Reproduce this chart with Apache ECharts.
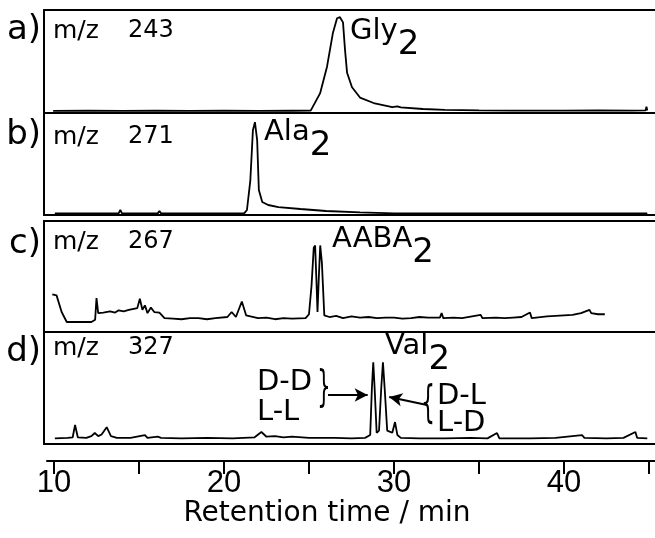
<!DOCTYPE html>
<html>
<head>
<meta charset="utf-8">
<script src="https://cdn.jsdelivr.net/npm/echarts@6/dist/echarts.min.js"></script>
<style>
  html, body { margin: 0; padding: 0; background: #fff; }
  #chart { width: 655px; height: 538px; }
</style>
</head>
<body>
<div id="chart"></div>
<script>
// Panel tags, selected ions and analytes of the four traces
const panelTags = ['a)', 'b)', 'c)', 'd)'];
const ionMasses = ['243', '271', '267', '327'];
const analytes = ['Gly', 'Ala', 'AABA', 'Val'];

// Retention-time axis
const tickValues = [10, 15, 20, 25, 30, 35, 40, 45];
const labelValues = [10, 20, 30, 40];
const axisTitle = 'Retention time / min';

// Ion traces: [retention time (min), relative intensity (% of panel height)]
const glyTrace = [[9.95,2],[12,2.2],[14,2],[16,2.3],[18,2],[20,2.2],[22,2],[24,2.2],[25.1,2.3],[25.2,3],
  [25.65,19],[26.06,45],[26.41,78],[26.65,92],[26.82,93],[27.0,88],[27.12,61],[27.24,39],[27.53,25],
  [28.0,15],[28.8,9.7],[29.9,5.8],[30.2,6.5],[30.4,5.5],[31.7,3.9],[33,3],[35,2.6],[37,2.4],[40,2.4],
  [42,2.5],[44,2.4],[44.8,2.6],[44.85,6],[44.9,2.5]];

const alaTrace = [[10.05,1.5],[12,1.5],[13.8,1.6],[13.9,4.9],[14.0,1.6],[16.1,1.6],[16.2,3.9],[16.3,1.6],
  [18,1.5],[20,1.5],[21.2,1.8],[21.35,4.9],[21.55,34],[21.7,83],[21.82,91],[21.95,73.5],[22.05,24.5],
  [22.25,12.7],[22.6,9.8],[23.2,7.8],[24.5,5.9],[26,3.9],[28,2.5],[30,1.5],[33,1.6],[36,1.5],[40,1.5],
  [44.9,1.5]];

const aabaTrace = [[9.9,34],[10.15,33],[10.45,18],[10.75,9],[11.5,9],[12.2,9],[12.42,11],[12.5,30.5],
  [12.6,17],[12.9,17.5],[13.3,18.5],[13.6,17.5],[13.8,19.5],[14.1,18.5],[14.4,20],[14.9,21.5],[15.05,30],
  [15.2,20],[15.35,24],[15.5,17],[15.7,22],[15.9,18],[16.2,17.5],[16.5,12.5],[17.0,12],[17.5,11.5],
  [18.0,12.5],[18.5,12.5],[19.0,11.5],[19.5,12.5],[20.2,13.5],[20.45,18],[20.7,13.5],[21.05,27.5],
  [21.3,15],[22,12.5],[22.5,13],[23,11.5],[23.5,12.5],[24,12],[24.8,12.5],[25.0,16],[25.15,42],
  [25.28,76],[25.36,78],[25.44,45],[25.5,18],[25.58,50],[25.66,78],[25.76,62],[25.9,15],[26.2,13.5],
  [26.6,14.5],[27,12.5],[27.5,14],[28,13],[28.5,13.5],[29,12.5],[29.5,13],[30,13],[30.5,12],[31,12.5],
  [31.5,13.5],[32,13],[32.7,13],[32.8,17],[32.9,12.5],[33.5,13],[34,12.5],[35.1,15.5],[35.2,12.5],
  [36,13],[36.5,12.5],[37.0,13],[37.5,13.5],[38,17.5],[38.1,12.5],[39,14],[39.5,14.5],[40,15],
  [40.5,15.5],[41,17],[41.5,20],[41.6,17],[42,16],[42.4,16]];

const valTrace = [[10.05,5],[10.8,5.5],[11.1,6],[11.24,17],[11.4,6],[11.9,5.5],[12.2,7],[12.4,9.8],
  [12.6,7],[12.8,8.5],[13.1,15],[13.35,7],[13.7,5.5],[14.5,5.5],[15.35,8],[15.5,5.5],[16.1,6.5],
  [16.3,5.5],[17.5,5],[19,5.5],[20.5,5],[21.8,6],[22.2,10.7],[22.5,6.5],[23,7],[23.5,6],[24,6.5],
  [25,5.5],[26.5,5.5],[27.5,5],[28.3,5.5],[28.6,8],[28.7,50],[28.78,73],[28.86,50],[28.98,10],
  [29.12,12],[29.25,50],[29.35,73],[29.45,50],[29.6,12],[29.9,10],[30.06,19.6],[30.2,8],[30.4,5.5],
  [31.5,5],[33,5],[34.5,5.5],[35.5,5],[36.06,9.8],[36.2,5],[38,5],[39.5,5.5],[41.06,8],[41.2,5.5],
  [42.5,5],[43.5,5.5],[44.2,10.7],[44.3,5.5],[44.9,5]];

const traces = [glyTrace, alaTrace, aabaTrace, valTrace];

// Diastereomer annotations in the Val2 trace: [tail, head] in (min, %)
const isomerArrows = [
  [[26.12, 43.75], [28.45, 43.75]],
  [[31.94, 34.8], [29.72, 42]]
];
const isomerPairsLeft = ['D-D', 'L-L'];
const isomerPairsRight = ['D-L', 'L-D'];

const FONT = "'DejaVu Sans', sans-serif";
const AXIS_MIN = 9.412, AXIS_MAX = 45.353;

// Panel frames (px)
const panelBoxes = [
  { top: 10, height: 103 },
  { top: 113, height: 102 },
  { top: 221, height: 111 },
  { top: 332, height: 112 }
];
const tagY = [30, 135, 244, 352];
const ionY = [31, 137, 242, 348];
const nameAnchors = [[350, 17], [264, 118], [332, 225], [385, 332]];

const frameLine = { show: true, lineStyle: { color: '#000', width: 2 } };

const grids = panelBoxes.map(b => ({ left: 44, right: 0, top: b.top, height: b.height }));
grids.push({ left: 47, right: 0, top: 451, height: 10 });

const xAxes = [];
panelBoxes.forEach((b, i) => {
  // data axis along the panel floor, plus a bare line closing the panel top
  xAxes.push({ type: 'value', gridIndex: i, min: AXIS_MIN, max: AXIS_MAX, position: 'bottom',
    axisLine: frameLine, axisTick: { show: false }, axisLabel: { show: false }, splitLine: { show: false } });
  xAxes.push({ type: 'value', gridIndex: i, min: AXIS_MIN, max: AXIS_MAX, position: 'top',
    axisLine: frameLine, axisTick: { show: false }, axisLabel: { show: false }, splitLine: { show: false } });
});
xAxes.push({
  type: 'value', gridIndex: 4, min: 9.588, max: 45.353, position: 'bottom',
  axisLine: { show: true, lineStyle: { color: '#000', width: 2 } },
  axisTick: { show: true, customValues: tickValues, length: 13, inside: false,
    lineStyle: { color: '#000', width: 2 } },
  axisLabel: { show: true, customValues: labelValues, margin: 7, color: '#000',
    fontSize: 31, fontFamily: "'Liberation Sans', Arial, sans-serif" },
  splitLine: { show: false },
  name: axisTitle, nameLocation: 'middle', nameGap: 38,
  nameTextStyle: { fontSize: 28, fontFamily: FONT, color: '#000', padding: [0, 48, 0, 0] }
});

const yAxes = panelBoxes.map((b, i) => ({ type: 'value', gridIndex: i, min: 0, max: 100, position: 'left',
  axisLine: frameLine, axisTick: { show: false }, axisLabel: { show: false }, splitLine: { show: false } }));
yAxes.push({ type: 'value', gridIndex: 4, min: 0, max: 1, show: false });

const series = traces.map((data, i) => ({
  type: 'line', xAxisIndex: i * 2, yAxisIndex: i, data: data,
  showSymbol: false, symbol: 'none', silent: true, animation: false,
  lineStyle: { color: '#000', width: 1.8 }
}));
series[3].markLine = {
  silent: true, animation: false, symbol: ['none', 'arrow'], symbolSize: [10, 13],
  label: { show: false },
  lineStyle: { color: '#000', width: 2, type: 'solid' },
  data: isomerArrows.map(a => [{ coord: a[0] }, { coord: a[1] }])
};

function txt(x, y, text, size, align, extra) {
  return Object.assign({
    type: 'text', x: x, y: y, silent: true,
    style: { text: text, fill: '#000', font: size + 'px ' + FONT,
      align: align || 'left', verticalAlign: 'middle',
      textAlign: align || 'left', textVerticalAlign: 'middle' }
  }, extra || {});
}

const graphics = [];
panelTags.forEach((t, i) => graphics.push(txt(41, tagY[i], t, 34, 'right')));
ionMasses.forEach((m, i) => {
  graphics.push(txt(53, ionY[i], 'm/z', 25));
  graphics.push(txt(128, ionY[i], m, 24));
});
analytes.forEach((name, i) => {
  graphics.push({
    type: 'text', x: nameAnchors[i][0], y: nameAnchors[i][1], silent: true,
    style: {
      text: '{n|' + name + '}{s|2}', fill: '#000', align: 'left', verticalAlign: 'top',
      textAlign: 'left', textVerticalAlign: 'top',
      rich: {
        n: { fontSize: 29, fontFamily: FONT, lineHeight: 31, verticalAlign: 'top', color: '#000' },
        s: { fontSize: 34, fontFamily: FONT, lineHeight: 34, verticalAlign: 'top', padding: [11, 0, 0, 0], color: '#000' }
      }
    }
  });
});
// Isomer pair labels and braces in the Val2 panel
graphics.push(txt(257, 382, isomerPairsLeft[0], 29));
graphics.push(txt(257, 412, isomerPairsLeft[1], 29));
graphics.push(txt(437, 396, isomerPairsRight[0], 29));
graphics.push(txt(437, 423, isomerPairsRight[1], 29));
graphics.push(txt(324, 390, '}', 42, 'center', { scaleX: 0.5 }));
graphics.push(txt(428, 406, '{', 44, 'center', { scaleX: 0.5 }));

const chart = echarts.init(document.getElementById('chart'), null, { renderer: 'canvas' });
chart.setOption({
  backgroundColor: '#fff',
  animation: false,
  grid: grids,
  xAxis: xAxes,
  yAxis: yAxes,
  series: series,
  graphic: { elements: graphics }
});
</script>
</body>
</html>
